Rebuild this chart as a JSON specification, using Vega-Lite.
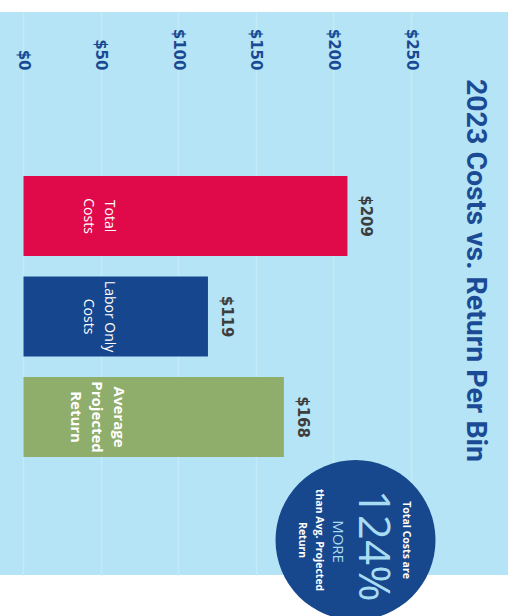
{
  "$schema": "https://vega.github.io/schema/vega-lite/v6.json",
  "width": 508,
  "height": 563,
  "autosize": {"type": "none"},
  "padding": {"left": 0, "top": 12, "right": 7, "bottom": 41},
  "background": "#ffffff",
  "config": {"view": {"fill": "#b4e4f5", "stroke": null}},
  "title": {
    "text": "2023 Costs vs. Return Per Bin",
    "orient": "right",
    "anchor": "middle",
    "offset": -47,
    "dx": -23,
    "font": "Roboto",
    "fontSize": 28.5,
    "fontWeight": "bold",
    "color": "#1b4b95"
  },
  "datasets": {
    "bins": [
      {"category": "Total Costs", "value": 209, "label": "Total\nCosts"},
      {"category": "Labor Only Costs", "value": 119, "label": "Labor Only\nCosts"},
      {"category": "Average Projected Return", "value": 168, "label": "Average\nProjected\nReturn"}
    ],
    "callout": [
      {"lead": "Total Costs are", "figure": "124%", "word": "MORE", "tail": "than Avg. Projected\nReturn"}
    ]
  },
  "layer": [
    {
      "data": {"name": "bins"},
      "mark": {"type": "bar"},
      "encoding": {
        "x": {
          "field": "value", "type": "quantitative",
          "scale": {"domain": [-15.16, 312.58], "nice": false, "zero": false},
          "axis": {
            "orient": "top", "offset": -58, "values": [0, 50, 100, 150, 200, 250],
            "format": "$d", "labelAngle": 90, "labelAlign": "right", "labelBaseline": "middle",
            "labelPadding": 0, "ticks": false, "tickSize": 0, "domain": false,
            "labelFont": "DejaVu Sans", "labelFontWeight": "bold", "labelFontSize": 15,
            "labelColor": "#1a4a94", "labelFlush": false, "labelOverlap": false,
            "grid": true, "gridColor": "#c3eaf8", "gridWidth": 1.5, "title": null
          }
        },
        "y": {
          "field": "category", "type": "nominal",
          "scale": {"domain": ["Total Costs", "Labor Only Costs", "Average Projected Return", "Note"], "paddingInner": 0.204, "paddingOuter": 0.903, "align": 0.904},
          "axis": null
        },
        "color": {
          "field": "category", "type": "nominal",
          "scale": {"domain": ["Total Costs", "Labor Only Costs", "Average Projected Return"], "range": ["#e00a4b", "#16468d", "#8fad6b"]},
          "legend": null
        }
      }
    },
    {
      "data": {"name": "bins"},
      "mark": {"type": "text", "angle": 90, "align": "center", "baseline": "middle", "xOffset": 19, "font": "DejaVu Sans", "fontWeight": "bold", "fontSize": 15, "color": "#3d3d3d"},
      "encoding": {
        "x": {"field": "value", "type": "quantitative"},
        "y": {"field": "category", "type": "nominal"},
        "text": {"field": "value", "type": "quantitative", "format": "$d"}
      }
    },
    {
      "data": {"name": "bins"},
      "transform": [{"filter": "datum.category !== 'Average Projected Return'"}],
      "mark": {"type": "text", "angle": 90, "align": "center", "baseline": "middle", "xOffset": 86, "lineBreak": "\n", "lineHeight": 21, "font": "Open Sans", "fontSize": 14, "color": "#ffffff"},
      "encoding": {
        "x": {"datum": 0, "type": "quantitative"},
        "y": {"field": "category", "type": "nominal"},
        "text": {"field": "label"}
      }
    },
    {
      "data": {"name": "bins"},
      "transform": [{"filter": "datum.category === 'Average Projected Return'"}],
      "mark": {"type": "text", "angle": 90, "align": "center", "baseline": "middle", "xOffset": 95.5, "lineBreak": "\n", "lineHeight": 21.5, "font": "Open Sans", "fontWeight": "bold", "fontSize": 15, "color": "#ffffff"},
      "encoding": {
        "x": {"datum": 0, "type": "quantitative"},
        "y": {"field": "category", "type": "nominal"},
        "text": {"field": "label"}
      }
    },
    {
      "data": {"name": "callout"},
      "mark": {"type": "point", "shape": "circle", "filled": true, "size": 25600, "color": "#17478c", "opacity": 1, "yOffset": 22.5},
      "encoding": {
        "x": {"datum": 214.2, "type": "quantitative"},
        "y": {"datum": "Note", "type": "nominal"}
      }
    },
    {
      "data": {"name": "callout"},
      "mark": {"type": "text", "angle": 90, "align": "center", "baseline": "middle", "xOffset": 50, "yOffset": 22.5, "font": "Open Sans", "fontWeight": "bold", "fontSize": 10.5, "color": "#ffffff"},
      "encoding": {
        "x": {"datum": 214.2, "type": "quantitative"},
        "y": {"datum": "Note", "type": "nominal"},
        "text": {"field": "lead"}
      }
    },
    {
      "data": {"name": "callout"},
      "mark": {"type": "text", "angle": 90, "align": "center", "baseline": "middle", "xOffset": 16, "yOffset": 28, "font": "Open Sans", "fontSize": 44, "color": "#a8dcf3"},
      "encoding": {
        "x": {"datum": 214.2, "type": "quantitative"},
        "y": {"datum": "Note", "type": "nominal"},
        "text": {"field": "figure"}
      }
    },
    {
      "data": {"name": "callout"},
      "mark": {"type": "text", "angle": 90, "align": "center", "baseline": "middle", "xOffset": -17.5, "yOffset": 24, "font": "Open Sans", "fontSize": 15, "color": "#a8dcf3"},
      "encoding": {
        "x": {"datum": 214.2, "type": "quantitative"},
        "y": {"datum": "Note", "type": "nominal"},
        "text": {"field": "word"}
      }
    },
    {
      "data": {"name": "callout"},
      "mark": {"type": "text", "angle": 90, "align": "center", "baseline": "middle", "xOffset": -36.5, "yOffset": 22.5, "lineBreak": "\n", "lineHeight": 17, "font": "Open Sans", "fontWeight": "bold", "fontSize": 10.5, "color": "#ffffff"},
      "encoding": {
        "x": {"datum": 214.2, "type": "quantitative"},
        "y": {"datum": "Note", "type": "nominal"},
        "text": {"field": "tail"}
      }
    }
  ]
}
